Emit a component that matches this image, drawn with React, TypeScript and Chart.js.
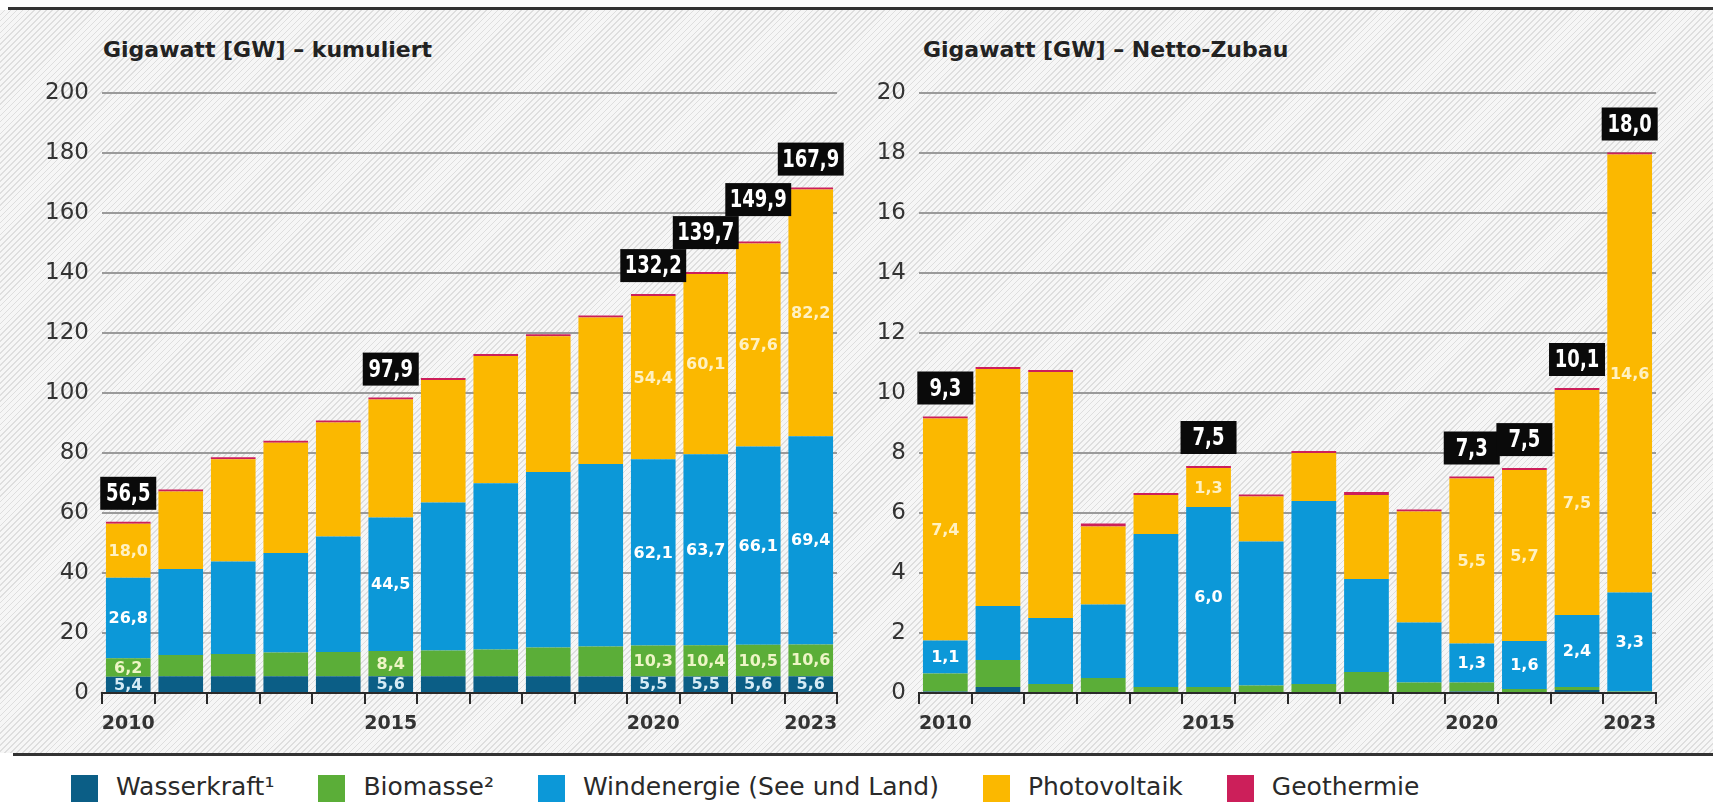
import React, { useEffect, useRef } from 'react';
import { Chart, registerables } from 'chart.js';

Chart.register(...registerables);

const FONT = "'DejaVu Sans', 'Open Sans', sans-serif";
const BOX_FONT = "'Liberation Sans Narrow', 'DejaVu Sans Condensed', sans-serif";

// ---------- data ----------
const years = ['2010', '2011', '2012', '2013', '2014', '2015', '2016', '2017', '2018', '2019', '2020', '2021', '2022', '2023'];
const shownYears = ['2010', '2015', '2020', '2023'];

const seriesNames = ['Wasserkraft¹', 'Biomasse²', 'Windenergie (See und Land)', 'Photovoltaik', 'Geothermie'];
const seriesColors = ['#0b5e86', '#5bae38', '#0c98d8', '#fbb800', '#cc1f5a'];
const segLabelColors = ['#d6ebf5', '#eef5c6', '#ffffff', '#fff1c2'];

const leftTitle = 'Gigawatt [GW] – kumuliert';
const rightTitle = 'Gigawatt [GW] – Netto-Zubau';

// cumulative (GW)
const cumWasser = [5.4, 5.6, 5.6, 5.6, 5.6, 5.6, 5.6, 5.6, 5.6, 5.5, 5.5, 5.5, 5.6, 5.6];
const cumBio = [6.2, 7.1, 7.4, 7.9, 8.1, 8.4, 8.6, 8.9, 9.6, 10.0, 10.3, 10.4, 10.5, 10.6];
const cumWind = [26.8, 28.6, 30.8, 33.2, 38.5, 44.5, 49.3, 55.4, 58.5, 60.8, 62.1, 63.7, 66.1, 69.4];
const cumPV = [18.0, 25.9, 34.1, 36.7, 38.0, 39.3, 40.8, 42.4, 45.2, 48.9, 54.4, 60.1, 67.6, 82.2];
const cumGeo = [0.01, 0.01, 0.02, 0.03, 0.03, 0.03, 0.04, 0.04, 0.04, 0.04, 0.04, 0.05, 0.05, 0.05];

const cumWasserLabels = ['5,4', null, null, null, null, '5,6', null, null, null, null, '5,5', '5,5', '5,6', '5,6'];
const cumBioLabels = ['6,2', null, null, null, null, '8,4', null, null, null, null, '10,3', '10,4', '10,5', '10,6'];
const cumWindLabels = ['26,8', null, null, null, null, '44,5', null, null, null, null, '62,1', '63,7', '66,1', '69,4'];
const cumPVLabels = ['18,0', null, null, null, null, null, null, null, null, null, '54,4', '60,1', '67,6', '82,2'];
const cumTotals = ['56,5', null, null, null, null, '97,9', null, null, null, null, '132,2', '139,7', '149,9', '167,9'];

// net additions (GW)
const netWasser = [0.05, 0.2, 0.0, 0.0, 0.0, 0.0, 0.0, 0.0, 0.0, 0.0, 0.05, 0.03, 0.1, 0.0];
const netBio = [0.6, 0.9, 0.3, 0.5, 0.2, 0.2, 0.25, 0.3, 0.7, 0.35, 0.3, 0.1, 0.1, 0.05];
const netWind = [1.1, 1.8, 2.2, 2.45, 5.1, 6.0, 4.8, 6.1, 3.1, 2.0, 1.3, 1.6, 2.4, 3.3];
const netPV = [7.4, 7.9, 8.2, 2.6, 1.3, 1.3, 1.5, 1.6, 2.8, 3.7, 5.5, 5.7, 7.5, 14.6];
const netGeo = [0.01, 0.01, 0.01, 0.1, 0.01, 0.01, 0.01, 0.01, 0.1, 0.01, 0.01, 0.01, 0.01, 0.01];

const netWasserLabels = [null, null, null, null, null, null, null, null, null, null, null, null, null, null];
const netBioLabels = [null, null, null, null, null, null, null, null, null, null, null, null, null, null];
const netWindLabels = ['1,1', null, null, null, null, '6,0', null, null, null, null, '1,3', '1,6', '2,4', '3,3'];
const netPVLabels = ['7,4', null, null, null, null, '1,3', null, null, null, null, '5,5', '5,7', '7,5', '14,6'];
const netTotals = ['9,3', null, null, null, null, '7,5', null, null, null, null, '7,3', '7,5', '10,1', '18,0'];

type Lbl = (string | null)[];

function makeLabelPlugin(seg: Lbl[], totals: Lbl) {
  return {
    id: 'valueLabels',
    afterDatasetsDraw(chart: any) {
      const ctx: CanvasRenderingContext2D = chart.ctx;
      ctx.save();
      ctx.textAlign = 'center';
      ctx.textBaseline = 'middle';
      ctx.font = `bold 16px ${FONT}`;
      seg.forEach((labels, di) => {
        const meta = chart.getDatasetMeta(di);
        labels.forEach((t, i) => {
          if (!t) return;
          const el: any = meta.data[i];
          ctx.fillStyle = segLabelColors[di];
          ctx.fillText(t, el.x, (el.y + el.base) / 2 + 1);
        });
      });
      // total boxes
      ctx.font = `bold 25px ${BOX_FONT}`;
      const h = 33;
      let prev: { right: number; top: number } | null = null;
      totals.forEach((t, i) => {
        if (!t) return;
        let top = Infinity;
        let x = 0;
        chart.data.datasets.forEach((_d: any, di: number) => {
          const el: any = chart.getDatasetMeta(di).data[i];
          top = Math.min(top, el.y, el.base);
          x = el.x;
        });
        const tw = ctx.measureText(t).width * 0.8;
        const w = Math.max(56, tw + 9);
        let bottom = top - 12;
        if (prev && prev.right - (x - w / 2) > 6 && prev.top < bottom) bottom = prev.top;
        ctx.fillStyle = '#0a0a0a';
        ctx.fillRect(x - w / 2, bottom - h, w, h);
        ctx.fillStyle = '#ffffff';
        ctx.fillText(t, x, bottom - h / 2 + 1, tw);
        prev = { right: x + w / 2, top: bottom - h };
      });
      ctx.restore();
    },
  };
}

type ChartProps = {
  left: number;
  width: number;
  height: number;
  data: number[][];
  seg: Lbl[];
  totals: Lbl;
  max: number;
  step: number;
  axisW: number;
  padRight: number;
};

function StackChart(p: ChartProps) {
  const ref = useRef<HTMLCanvasElement>(null);
  useEffect(() => {
    const ctx = ref.current!.getContext('2d')!;
    const chart = new Chart(ctx, {
      type: 'bar',
      data: {
        labels: years,
        datasets: p.data.map((d, i) => ({
          label: seriesNames[i],
          data: d,
          backgroundColor: seriesColors[i],
          borderWidth: 0,
          barPercentage: 0.85,
          categoryPercentage: 1,
          minBarLength: i === 4 ? 2 : 0,
        })),
      },
      options: {
        animation: false,
        responsive: false,
        maintainAspectRatio: false,
        layout: { padding: { top: 93, right: p.padRight, left: 0, bottom: 0 } },
        plugins: { legend: { display: false }, tooltip: { enabled: false }, title: { display: false } },
        scales: {
          x: {
            stacked: true,
            offset: true,
            grid: { offset: true, drawOnChartArea: false, drawTicks: true, tickLength: 11, color: '#2a2a2a', lineWidth: 2 },
            border: { display: true, color: '#2a2a2a', width: 2 },
            ticks: {
              autoSkip: false,
              maxRotation: 0,
              minRotation: 0,
              padding: 9,
              color: '#333',
              font: { family: FONT, size: 19, weight: 'bold' },
              callback: (_v: any, i: number) => (shownYears.includes(years[i]) ? years[i] : ''),
            },
            afterFit: (s: any) => {
              s.height = 50;
            },
          },
          y: {
            stacked: true,
            min: 0,
            max: p.max,
            ticks: { stepSize: p.step, padding: 13, color: '#333', font: { family: FONT, size: 23 } },
            grid: {
              color: (c: any) => (c.tick && c.tick.value === 0 ? 'rgba(0,0,0,0)' : '#9a9a9a'),
              lineWidth: 2,
              drawTicks: false,
            },
            border: { display: false },
            afterFit: (s: any) => {
              s.width = p.axisW;
            },
          },
        },
      } as any,
      plugins: [makeLabelPlugin(p.seg, p.totals)],
    });
    return () => chart.destroy();
  }, []);
  return (
    <canvas
      ref={ref}
      width={p.width}
      height={p.height}
      style={{ position: 'absolute', left: p.left, top: 0, width: p.width, height: p.height }}
    />
  );
}

export default function App() {
  return (
    <div
      style={{
        position: 'absolute',
        left: 0,
        top: 0,
        width: 1713,
        height: 804,
        overflow: 'hidden',
        background: '#ffffff',
        fontFamily: FONT,
        color: '#222',
      }}
    >
      <div
        style={{
          position: 'absolute',
          left: 0,
          top: 10,
          width: 1713,
          height: 743,
          background: 'repeating-linear-gradient(135deg, #f6f6f6 0px, #f6f6f6 3px, #dedede 3px, #dedede 4.2px)',
        }}
      />
      <div style={{ position: 'absolute', left: 8, top: 7, width: 1705, height: 3, background: '#333' }} />
      <div style={{ position: 'absolute', left: 13, top: 753, width: 1700, height: 3, background: '#333' }} />

      <div style={{ position: 'absolute', left: 103, top: 39, fontSize: 22, lineHeight: '22px', fontWeight: 'bold', whiteSpace: 'nowrap' }}>
        {leftTitle}
      </div>
      <div style={{ position: 'absolute', left: 923, top: 39, fontSize: 22, lineHeight: '22px', fontWeight: 'bold', whiteSpace: 'nowrap' }}>
        {rightTitle}
      </div>

      <StackChart
        left={0}
        width={860}
        height={743}
        data={[cumWasser, cumBio, cumWind, cumPV, cumGeo]}
        seg={[cumWasserLabels, cumBioLabels, cumWindLabels, cumPVLabels]}
        totals={cumTotals}
        max={200}
        step={20}
        axisW={102}
        padRight={23}
      />
      <StackChart
        left={860}
        width={853}
        height={743}
        data={[netWasser, netBio, netWind, netPV, netGeo]}
        seg={[netWasserLabels, netBioLabels, netWindLabels, netPVLabels]}
        totals={netTotals}
        max={20}
        step={2}
        axisW={59}
        padRight={57}
      />

      <div style={{ position: 'absolute', left: 71, top: 775, display: 'flex', alignItems: 'flex-start', whiteSpace: 'nowrap' }}>
        {seriesNames.map((n, i) => (
          <div key={n} style={{ display: 'flex', alignItems: 'flex-start', marginRight: 44 }}>
            <div style={{ width: 27, height: 27, background: seriesColors[i], marginRight: 18 }} />
            <span style={{ fontSize: 25, lineHeight: '27px', marginTop: -2, color: '#2a2a2a' }}>{n}</span>
          </div>
        ))}
      </div>
    </div>
  );
}
